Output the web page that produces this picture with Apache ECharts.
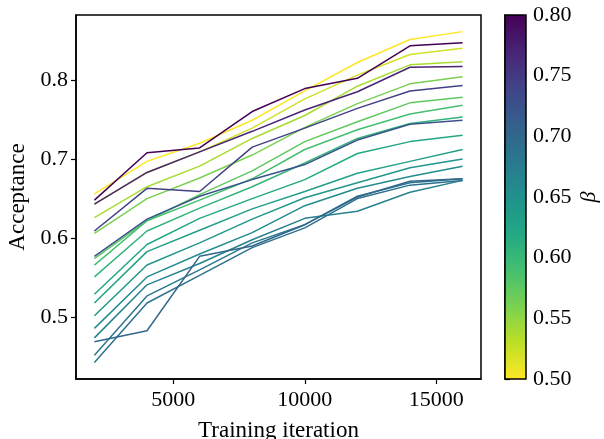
<!DOCTYPE html>
<html>
<head>
<meta charset="utf-8">
<script src="https://cdn.jsdelivr.net/npm/echarts@6/dist/echarts.min.js"></script>
<style>
html,body{margin:0;padding:0;background:#fff;}
#chart{width:604px;height:439px;}
</style>
</head>
<body>
<div id="chart"></div>
<script>
// ---- data ----
const iterations = [2000, 4000, 6000, 8000, 10000, 12000, 14000, 16000];
const betas = [0.500, 0.521, 0.539, 0.560, 0.575, 0.590, 0.605, 0.620, 0.632, 0.644,
               0.656, 0.668, 0.680, 0.689, 0.701, 0.722, 0.743, 0.770, 0.800];
const acc01 = [0.656, 0.697, 0.720, 0.749, 0.786, 0.822, 0.851, 0.861];
const acc02 = [0.643, 0.683, 0.709, 0.739, 0.776, 0.806, 0.832, 0.840];
const acc03 = [0.626, 0.665, 0.691, 0.726, 0.755, 0.792, 0.819, 0.823];
const acc04 = [0.606, 0.650, 0.676, 0.705, 0.740, 0.770, 0.795, 0.804];
const acc05 = [0.574, 0.622, 0.655, 0.685, 0.722, 0.747, 0.771, 0.778];
const acc06 = [0.566, 0.622, 0.648, 0.675, 0.712, 0.737, 0.757, 0.768];
const acc07 = [0.551, 0.609, 0.638, 0.665, 0.695, 0.726, 0.745, 0.753];
const acc08 = [0.529, 0.592, 0.625, 0.650, 0.674, 0.707, 0.722, 0.730];
const acc09 = [0.518, 0.583, 0.610, 0.637, 0.659, 0.682, 0.697, 0.712];
const acc10 = [0.502, 0.566, 0.594, 0.624, 0.651, 0.670, 0.689, 0.700];
const acc11 = [0.486, 0.551, 0.580, 0.607, 0.641, 0.663, 0.678, 0.691];
const acc12 = [0.474, 0.541, 0.568, 0.598, 0.625, 0.634, 0.658, 0.673];
const acc13 = [0.452, 0.527, 0.560, 0.594, 0.617, 0.653, 0.670, 0.675];
const acc14 = [0.443, 0.518, 0.553, 0.588, 0.613, 0.650, 0.667, 0.673];
const acc15 = [0.469, 0.483, 0.577, 0.590, 0.617, 0.652, 0.672, 0.675];
const acc16 = [0.577, 0.624, 0.653, 0.674, 0.693, 0.724, 0.744, 0.749];
const acc17 = [0.609, 0.663, 0.659, 0.715, 0.739, 0.764, 0.786, 0.793];
const acc18 = [0.643, 0.683, 0.709, 0.735, 0.762, 0.785, 0.816, 0.817];
const acc19 = [0.648, 0.708, 0.714, 0.760, 0.789, 0.802, 0.843, 0.847];
const xTicks = [5000, 10000, 15000];
const yTicks = [0.5, 0.6, 0.7, 0.8];

const accAll = [acc01, acc02, acc03, acc04, acc05, acc06, acc07, acc08, acc09, acc10,
                acc11, acc12, acc13, acc14, acc15, acc16, acc17, acc18, acc19];

// viridis reversed: low beta = yellow, high beta = purple
const viridisR = ['#fde725','#bddf26','#7ad151','#44bf70','#22a884','#21918c',
                  '#2a788e','#355f8d','#414487','#482475','#440154'];
const bMin = 0.5, bMax = 0.8;
const FONT = 'Liberation Serif';

const chart = echarts.init(document.getElementById('chart'), null, {renderer: 'canvas'});

const series = accAll.map((arr, i) => ({
  type: 'line',
  xAxisIndex: 0, yAxisIndex: 0,
  data: iterations.map((x, j) => [x, arr[j]]),
  symbol: 'none',
  silent: true,
  lineStyle: {width: 1.5, color: echarts.color.lerp((betas[i] - bMin) / (bMax - bMin), viridisR)},
  z: 2
}));
series.push({type: 'scatter', xAxisIndex: 1, yAxisIndex: 1, data: [], silent: true});

chart.setOption({
  animation: false,
  grid: [
    {left: 76, top: 15, width: 405, height: 364, show: true, borderColor: '#000', borderWidth: 1.5,
     backgroundColor: 'transparent', outerBoundsMode: 'none', containLabel: false},
    {left: 505, top: 15, width: 21, height: 364, show: true, borderColor: '#000', borderWidth: 1.5,
     backgroundColor: 'transparent', z: 10, outerBoundsMode: 'none', containLabel: false}
  ],
  xAxis: [
    {gridIndex: 0, type: 'value', min: 1300, max: 16700,
     name: 'Training iteration', nameLocation: 'middle', nameGap: 40,
     nameTextStyle: {fontFamily: FONT, fontSize: 23, color: '#000'},
     axisLine: {show: true, lineStyle: {color: '#000', width: 1.5}},
     axisTick: {show: true, inside: false, length: 5, lineStyle: {color: '#000', width: 1.2}, customValues: xTicks},
     axisLabel: {show: true, margin: 10, fontFamily: FONT, fontSize: 22, color: '#000', customValues: xTicks,
                 formatter: v => String(Math.round(v))},
     splitLine: {show: false}},
    {gridIndex: 1, type: 'value', min: 0, max: 1, show: false}
  ],
  yAxis: [
    {gridIndex: 0, type: 'value', min: 0.422, max: 0.882,
     name: 'Acceptance', nameLocation: 'middle', nameGap: 46,
     nameTextStyle: {fontFamily: FONT, fontSize: 23, color: '#000'},
     axisLine: {show: true, lineStyle: {color: '#000', width: 1.5}},
     axisTick: {show: true, inside: false, length: 5, lineStyle: {color: '#000', width: 1.2}, customValues: yTicks},
     axisLabel: {show: true, margin: 8, fontFamily: FONT, fontSize: 22, color: '#000', customValues: yTicks,
                 formatter: v => v.toFixed(1)},
     splitLine: {show: false}},
    {gridIndex: 1, type: 'value', min: bMin, max: bMax, interval: 0.05, position: 'right',
     name: 'β', nameLocation: 'middle', nameGap: 52, nameRotate: 90,
     nameTextStyle: {fontFamily: FONT, fontSize: 22, color: '#000', fontStyle: 'italic'},
     axisLine: {show: true, lineStyle: {color: '#000', width: 1.5}},
     axisTick: {show: true, inside: false, length: 5, lineStyle: {color: '#000', width: 1.2}},
     axisLabel: {show: true, margin: 7, fontFamily: FONT, fontSize: 22, color: '#000',
                 formatter: v => v.toFixed(2)},
     splitLine: {show: false}}
  ],
  visualMap: {
    type: 'continuous', min: bMin, max: bMax, seriesIndex: accAll.length, dimension: 1,
    left: 505, top: 15, itemWidth: 21, itemHeight: 364, padding: 0,
    calculable: false, hoverLink: false, realtime: false,
    inRange: {color: viridisR}, z: 5
  },
  series: series
});
</script>
</body>
</html>
